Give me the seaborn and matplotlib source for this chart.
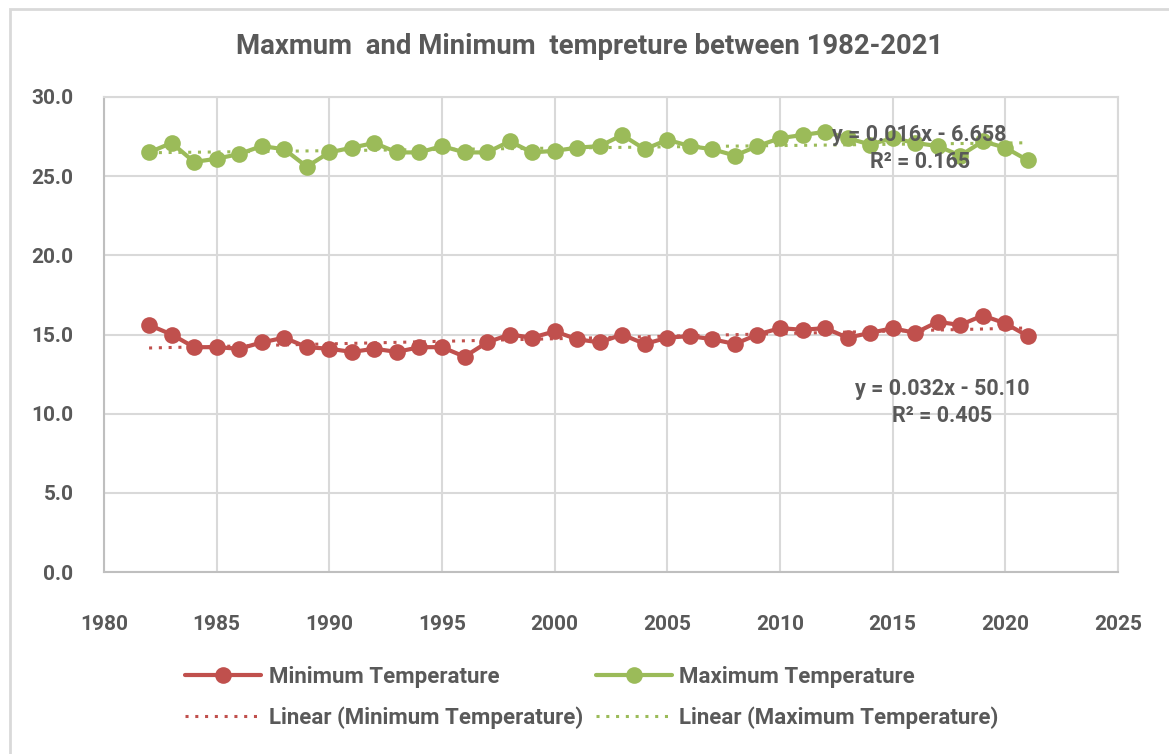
import numpy as np
import pandas as pd
import matplotlib
matplotlib.use("Agg")
import matplotlib.pyplot as plt
from matplotlib.patches import Rectangle
import seaborn as sns

# Years 1982-2021
years = list(range(1982, 2022))

# Minimum temperature
min_temp = [15.6, 15.0, 14.2, 14.2, 14.1, 14.5, 14.8, 14.2, 14.1, 13.9,
            14.1, 13.9, 14.2, 14.2, 13.6, 14.5, 15.0, 14.8, 15.2, 14.7,
            14.5, 15.0, 14.4, 14.8, 14.9, 14.7, 14.4, 15.0, 15.4, 15.3,
            15.4, 14.8, 15.1, 15.4, 15.1, 15.8, 15.6, 16.2, 15.7, 14.9]

# Maximum temperature
max_temp = [26.5, 27.1, 25.9, 26.1, 26.4, 26.9, 26.7, 25.6, 26.5, 26.8,
            27.1, 26.5, 26.5, 26.9, 26.5, 26.5, 27.2, 26.5, 26.6, 26.8,
            26.9, 27.6, 26.7, 27.3, 26.9, 26.7, 26.3, 26.9, 27.4, 27.6,
            27.8, 27.4, 27.0, 27.4, 27.1, 26.9, 26.3, 27.2, 26.8, 26.0]

x_ticks = list(range(1980, 2030, 5))
y_ticks = [0, 5, 10, 15, 20, 25, 30]

min_eq = "y = 0.032x - 50.10\nR² = 0.405"
max_eq = "y = 0.016x - 6.658\nR² = 0.165"

df = pd.DataFrame({"Year": years, "Min": min_temp, "Max": max_temp})

red = "#C0504D"
green = "#9BBB59"
txt = "#595959"
grid = "#D9D9D9"

sns.set_style("white")
plt.rcParams["font.family"] = ["Roboto", "DejaVu Sans"]
plt.rcParams["font.weight"] = "bold"

fig = plt.figure(figsize=(11.69, 7.54), dpi=100)
ax = fig.add_axes([104 / 1169, 1 - 572 / 754, (1118 - 104) / 1169, (572 - 97) / 754])

# data series
sns.lineplot(data=df, x="Year", y="Min", ax=ax, color=red, lw=3, marker="o",
             markersize=12, markeredgewidth=0, label="Minimum Temperature", zorder=3)
sns.regplot(data=df, x="Year", y="Min", ax=ax, scatter=False, ci=None, color=red,
            line_kws=dict(ls=(0, (1, 2.2)), lw=2.2, zorder=2),
            label="Linear (Minimum Temperature)")
sns.lineplot(data=df, x="Year", y="Max", ax=ax, color=green, lw=3, marker="o",
             markersize=12, markeredgewidth=0, label="Maximum Temperature", zorder=3)
sns.regplot(data=df, x="Year", y="Max", ax=ax, scatter=False, ci=None, color=green,
            line_kws=dict(ls=(0, (1, 2.2)), lw=2.2, zorder=2),
            label="Linear (Maximum Temperature)")

ax.set_xlim(1980, 2025)
ax.set_ylim(0, 30)
ax.set_xticks(x_ticks)
ax.set_yticks(y_ticks)
ax.set_yticklabels([f"{v:.1f}" for v in y_ticks])
ax.set_xlabel("")
ax.set_ylabel("")
ax.grid(True, color=grid, lw=1.5)
ax.set_axisbelow(True)
for s in ["top", "right"]:
    ax.spines[s].set_color(grid)
    ax.spines[s].set_linewidth(1.5)
for s in ["left", "bottom"]:
    ax.spines[s].set_color("#BFBFBF")
    ax.spines[s].set_linewidth(1.5)
ax.tick_params(axis="both", length=0, labelsize=15, labelcolor=txt)
ax.tick_params(axis="y", pad=22)
ax.tick_params(axis="x", pad=31)
for lab in ax.get_xticklabels() + ax.get_yticklabels():
    lab.set_fontweight("bold")

# trendline equations
ax.text(2016.2, 26.75, max_eq, ha="center", va="center", fontsize=15.5,
        color=txt, fontweight="bold", linespacing=1.3, zorder=4)
ax.text(2017.2, 10.7, min_eq, ha="center", va="center", fontsize=15.5,
        color=txt, fontweight="bold", linespacing=1.3, zorder=4)

fig.text(590 / 1169, 1 - 47 / 754, "Maxmum  and Minimum  tempreture between 1982-2021",
         ha="center", va="center", fontsize=19.8, color=txt, fontweight="bold")

ax.get_legend().remove()
handles, labels = ax.get_legend_handles_labels()
leg = fig.legend(handles, labels, loc="center", bbox_to_anchor=(592 / 1169, 1 - 697.5 / 754),
                 ncol=2, frameon=False, fontsize=16, handlelength=3.4,
                 labelspacing=0.85, columnspacing=0.6, handletextpad=0.35,
                 labelcolor=txt)
for t in leg.get_texts():
    t.set_fontweight("bold")

# outer chart frame
fig.patches.append(Rectangle((10 / 1169, -0.02), 1.1, (754 - 9) / 754 + 0.02,
                             transform=fig.transFigure, fill=False,
                             edgecolor=grid, lw=2))

fig.savefig("out.png", dpi=100)
